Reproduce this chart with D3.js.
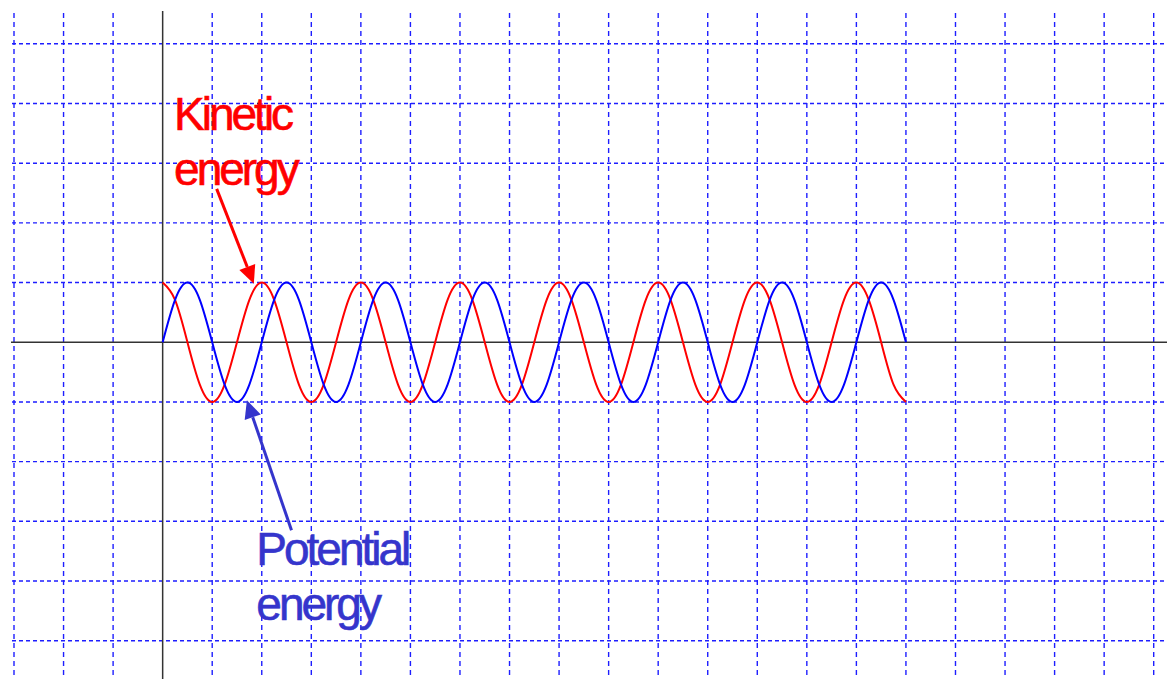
<!DOCTYPE html>
<html>
<head>
<meta charset="utf-8">
<script src="https://cdn.jsdelivr.net/npm/d3@7"></script>
<style>
html,body{margin:0;padding:0;background:#fff;}
svg{display:block;}
</style>
</head>
<body>
<svg id="chart" width="1167" height="679"></svg>
<script>
// ---- data ----
const time = [0,0.25,0.5,0.75,1,1.25,1.5,1.75,2,2.25,2.5,2.75,3,3.25,3.5,3.75,4,4.25,4.5,4.75,5,5.25,5.5,5.75,6,6.25,6.5,6.75,7,7.25,7.5,7.75,8,8.25,8.5,8.75,9,9.25,9.5,9.75,10,10.25,10.5,10.75,11,11.25,11.5,11.75,12,12.25,12.5,12.75,13,13.25,13.5,13.75,14,14.25,14.5,14.75,15];
const kinetic = [
 1,0.71,0,-0.71,-1,-0.71,0,0.71,
 1,0.71,0,-0.71,-1,-0.71,0,0.71,
 1,0.71,0,-0.71,-1,-0.71,0,0.71,
 1,0.71,0,-0.71,-1,-0.71,0,0.71,
 1,0.71,0,-0.71,-1,-0.71,0,0.71,
 1,0.71,0,-0.71,-1,-0.71,0,0.71,
 1,0.71,0,-0.71,-1,-0.71,0,0.71,
 1,0.71,0,-0.71,-1];
const potential = [
 0,0.71,1,0.71,0,-0.71,-1,-0.71,
 0,0.71,1,0.71,0,-0.71,-1,-0.71,
 0,0.71,1,0.71,0,-0.71,-1,-0.71,
 0,0.71,1,0.71,0,-0.71,-1,-0.71,
 0,0.71,1,0.71,0,-0.71,-1,-0.71,
 0,0.71,1,0.71,0,-0.71,-1,-0.71,
 0,0.71,1,0.71,0,-0.71,-1,-0.71,
 0,0.71,1,0.71,0];
const xGridTicks = [-3,-2,-1,0,1,2,3,4,5,6,7,8,9,10,11,12,13,14,15,16,17,18,19,20];
const yGridTicks = [-5,-4,-3,-2,-1,0,1,2,3,4,5];
const labels = [
  {lines:["Kinetic","energy"], series:"kinetic"},
  {lines:["Potential","energy"], series:"potential"}
];
// annotation anchors in data units: text position, arrow tail, arrow tip
const kineticNote = {text:[0.23,3.55], tail:[1.09,2.57], tip:[1.84,0.98]};
const potentialNote = {text:[1.89,-3.74], tail:[2.6,-3.15], tip:[1.7,-0.97]};

// ---- layout ----
const W = 1167, H = 679;
const x = d3.scaleLinear().domain([-3,20]).range([14,1153.7]);
const y = d3.scaleLinear().domain([-5,5]).range([640.7,43.8]);
const svg = d3.select("#chart");

const red = "#ff0000", blue = "#0000ff", gridBlue = "#1e1eff", noteBlue = "#3535cc";

// grid
const g = svg.append("g");
g.selectAll("line.v").data(xGridTicks.filter(d=>d!==0)).join("line")
  .attr("x1",d=>x(d)).attr("x2",d=>x(d)).attr("y1",13).attr("y2",H)
  .attr("stroke",gridBlue).attr("stroke-width",1.4).attr("stroke-dasharray","5,4");
g.selectAll("line.h").data(yGridTicks.filter(d=>d!==0)).join("line")
  .attr("x1",12).attr("x2",W).attr("y1",d=>y(d)).attr("y2",d=>y(d))
  .attr("stroke",gridBlue).attr("stroke-width",1.4).attr("stroke-dasharray","4,3");

// axes
svg.append("line").attr("x1",11).attr("x2",W).attr("y1",y(0)).attr("y2",y(0))
  .attr("stroke","#333").attr("stroke-width",1.5);
svg.append("line").attr("x1",x(0)).attr("x2",x(0)).attr("y1",11).attr("y2",H)
  .attr("stroke","#333").attr("stroke-width",1.5);

// curves
const line = d3.line().x(d=>x(d[0])).y(d=>y(d[1])).curve(d3.curveNatural);
svg.append("path").datum(time.map((t,i)=>[t,kinetic[i]]))
  .attr("d",line).attr("fill","none").attr("stroke",red).attr("stroke-width",2);
svg.append("path").datum(time.map((t,i)=>[t,potential[i]]))
  .attr("d",line).attr("fill","none").attr("stroke",blue).attr("stroke-width",2);

// arrows
function arrow(note,color){
  const x1=x(note.tail[0]), y1=y(note.tail[1]), x2=x(note.tip[0]), y2=y(note.tip[1]);
  const ang=Math.atan2(y2-y1,x2-x1), L=18, hw=8.5;
  const bx=x2-L*Math.cos(ang), by=y2-L*Math.sin(ang);
  svg.append("line").attr("x1",x1).attr("y1",y1).attr("x2",bx).attr("y2",by)
    .attr("stroke",color).attr("stroke-width",3);
  const px=-Math.sin(ang), py=Math.cos(ang);
  svg.append("path").attr("d",`M${x2},${y2}L${bx+px*hw},${by+py*hw}L${bx-px*hw},${by-py*hw}Z`)
    .attr("fill",color);
}
arrow(kineticNote,red);
arrow(potentialNote,noteBlue);

// labels
function label(note,lines,color){
  const t=svg.append("text").attr("x",x(note.text[0])).attr("y",y(note.text[1]))
    .attr("fill",color).attr("stroke",color).attr("stroke-width",0.6)
    .attr("font-family","'Liberation Sans', Arial, sans-serif")
    .attr("font-size",46).attr("letter-spacing","-3px");
  lines.forEach((s,i)=>t.append("tspan").attr("x",x(note.text[0])).attr("dy",i?55:0).text(s));
}
label(kineticNote,labels[0].lines,red);
label(potentialNote,labels[1].lines,noteBlue);
</script>
</body>
</html>
